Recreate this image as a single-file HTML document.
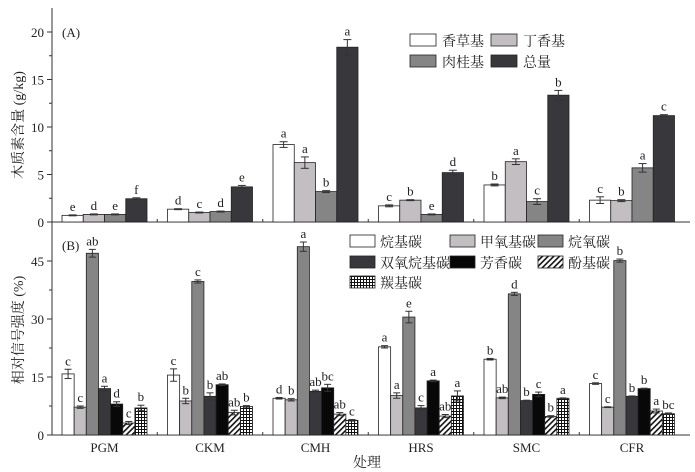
<!DOCTYPE html>
<html><head><meta charset="utf-8"><style>
html,body{margin:0;padding:0;background:#fff;}
svg{display:block;font-family:"Liberation Serif","Noto Serif CJK SC",serif;}
</style></head><body>
<svg id="s" width="695" height="472" viewBox="0 0 695 472" xmlns="http://www.w3.org/2000/svg">
<defs>
<pattern id="hat" width="4" height="4" patternUnits="userSpaceOnUse" patternTransform="rotate(45)">
<rect width="4" height="4" fill="#fff"/><rect width="1.6" height="4" fill="#111"/></pattern>
<pattern id="grd" width="3" height="3" patternUnits="userSpaceOnUse">
<rect width="3" height="3" fill="#fff"/><rect width="3" height="1" fill="#111"/><rect width="1" height="3" fill="#111"/></pattern>
</defs>
<g id="g"></g>
</svg>
<script>
var g=document.getElementById('g'),out='';
function R(x,y,w,h,f){out+='<rect x="'+x+'" y="'+y+'" width="'+w+'" height="'+h+'" fill="'+f+'" stroke="#222" stroke-width="0.8"/>';}
function L(x1,y1,x2,y2,w){out+='<line x1="'+x1+'" y1="'+y1+'" x2="'+x2+'" y2="'+y2+'" stroke="#333" stroke-width="'+(w||1)+'"/>';}
function T(x,y,t,s,a){out+='<text x="'+x+'" y="'+y+'" font-size="'+(s||13)+'" text-anchor="'+(a||'middle')+'" fill="#222">'+t+'</text>';}
var C=[104.5,210,315.5,421,526.5,632],N=['PGM','CKM','CMH','HRS','SMC','CFR'];
L(52,8,52,435);L(52,222,690,222);L(52,435,690,435);
var A0=222,As=9.5;
[0,5,10,15,20].forEach(function(v){var y=A0-v*As;L(47,y,52,y);T(44,y+5,v,13,'end');});
[2.5,7.5,12.5,17.5].forEach(function(v){var y=A0-v*As;L(49,y,52,y);});
T(62,37,'(A)',13,'start');
var AF=['#fff','#c2bec2','#858585','#38383c'];
var AV=[[0.7,0.8,0.8,2.45],[1.35,1.0,1.1,3.7],[8.15,6.25,3.2,18.4],[1.7,2.3,0.8,5.2],[3.9,6.35,2.15,13.35],[2.3,2.25,5.7,11.2]];
var AE=[[.05,.05,.05,.1],[.05,.05,.05,.15],[.3,.6,.1,.8],[.1,.05,.05,.25],[.1,.3,.3,.5],[.35,.1,.45,.1]];
var AL=[['e','d','e','f'],['d','c','d','e'],['a','a','b','a'],['c','b','e','d'],['b','a','c','b'],['c','b','a','c']];
for(var i=0;i<6;i++){for(var j=0;j<4;j++){var x=C[i]-42.5+j*21.25,h=AV[i][j]*As,y=A0-h,cx=x+10.6,e=AE[i][j]*As;
R(x,y,21.25,h,AF[j]);L(cx,y-e,cx,y+e);L(cx-4,y-e,cx+4,y-e);L(cx-4,y+e,cx+4,y+e);T(cx,y-e-4,AL[i][j],13);}
if(i<5)L((C[i]+C[i+1])/2,222,(C[i]+C[i+1])/2,219);}
var la=[[410,34,0,'香草基'],[491,34,1,'丁香基'],[410,55,2,'肉桂基'],[491,55,3,'总量']];
la.forEach(function(a){R(a[0],a[1],26,12,AF[a[2]]);out+='<text x="'+(a[0]+32)+'" y="'+(a[1]+12)+'" font-size="14" fill="#222">'+a[3]+'</text>';});
var B0=435,Bs=3.867;
[0,15,30,45].forEach(function(v){var y=B0-v*Bs;L(47,y,52,y);T(44,y+5,v,13,'end');});
[7.5,22.5,37.5].forEach(function(v){var y=B0-v*Bs;L(49,y,52,y);});
T(62,250,'(B)',13,'start');
var BF=['#fff','#c2bec2','#858585','#38383c','#080808','url(#hat)','url(#grd)'];
var BV=[[15.8,7.2,47,12,8,3.1,7],[15.5,8.8,39.7,10,13,5.8,7.4],[9.5,9.1,48.7,11.3,12.2,5.4,3.8],[22.8,10.2,30.5,7,14,4.9,10.1],[19.6,9.6,36.5,8.9,10.5,4.8,9.5],[13.3,7.2,45.1,10,12,6.2,5.5]];
var BE=[[1.2,.3,1,.6,.6,.4,.7],[1.6,.7,.4,.9,.2,.6,.2],[.2,.3,1.2,.3,.9,.4,.2],[.3,.7,1.5,.6,.2,.4,1.3],[.2,.2,.4,.1,.6,.2,.1],[.2,.1,.4,.1,.1,.5,.2]];
var BL=[['c','c','ab','a','d','c','b'],['c','b','c','b','ab','ab','b'],['d','b','a','ab','bc','ab','c'],['a','a','e','c','a','ab','a'],['b','ab','d','b','c','b','a'],['c','c','b','b','b','a','bc']];
for(var i=0;i<6;i++){for(var j=0;j<7;j++){var w=85/7,x=C[i]-42.5+j*w,h=BV[i][j]*Bs,y=B0-h,cx=x+w/2,e=BE[i][j]*Bs;
R(x,y,w,h,BF[j]);L(cx,y-e,cx,y+e);L(cx-3.5,y-e,cx+3.5,y-e);L(cx-3.5,y+e,cx+3.5,y+e);T(cx,y-e-4,BL[i][j],13);}
T(C[i],452,N[i],13);
if(i<5)L((C[i]+C[i+1])/2,435,(C[i]+C[i+1])/2,432);}
var lb=[[350,235,0,'烷基碳'],[450,235,1,'甲氧基碳'],[538,235,2,'烷氧碳'],[350,256,3,'双氧烷基碳'],[450,256,4,'芳香碳'],[538,256,5,'酚基碳'],[350,276,6,'羰基碳']];
lb.forEach(function(a){R(a[0],a[1],25,12,BF[a[2]]);out+='<text x="'+(a[0]+30)+'" y="'+(a[1]+12)+'" font-size="14" fill="#222">'+a[3]+'</text>';});
out+='<text transform="translate(23,125) rotate(-90)" font-size="14" text-anchor="middle" fill="#222">木质素含量 (g/kg)</text>';
out+='<text transform="translate(23,330) rotate(-90)" font-size="14" text-anchor="middle" fill="#222">相对信号强度 (%)</text>';
T(367,467,'处理',14);
g.innerHTML=out;
</script>
</body></html>
